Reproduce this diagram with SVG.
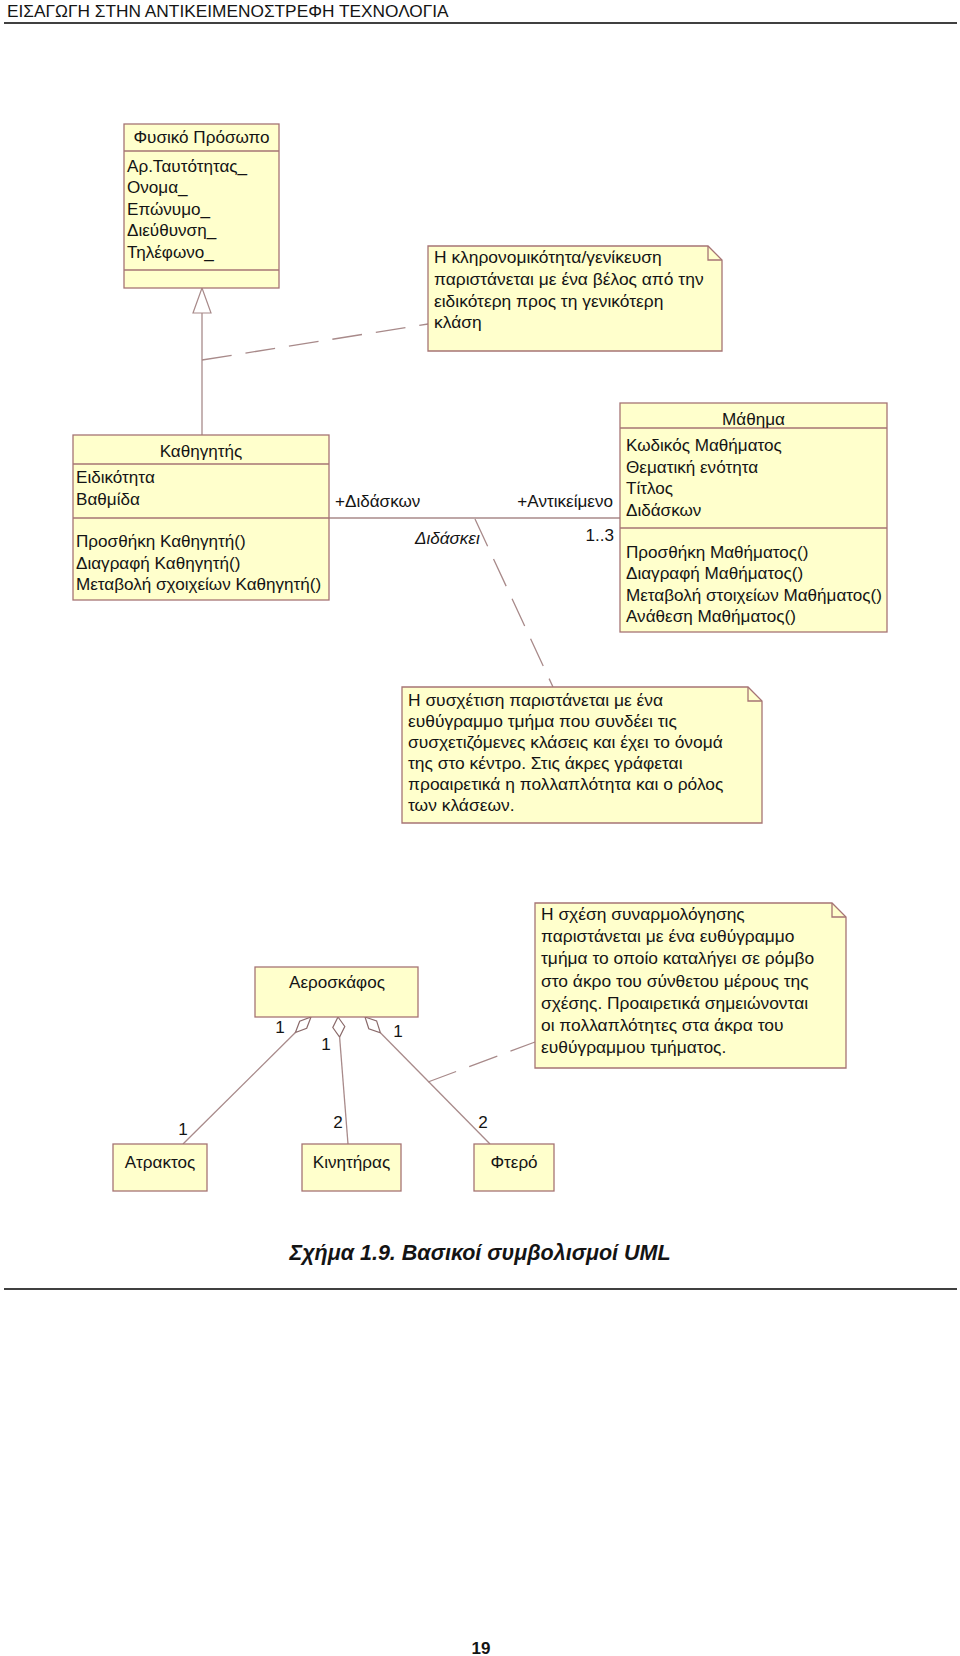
<svg xmlns="http://www.w3.org/2000/svg" width="960" height="1656" viewBox="0 0 960 1656">
<style>
.bx{fill:#ffffcc;stroke:#a67474;stroke-width:1.3}
.dv{stroke:#a67474;stroke-width:1.3}
.t{font-family:"Liberation Sans",Arial,sans-serif;font-size:17.1px;fill:#141414}
.n{font-size:17.4px}
.c{text-anchor:middle}
.e{text-anchor:end}
.ln{stroke:#a88a8a;stroke-width:1.3;fill:none}
.ds{stroke:#a88a8a;stroke-width:1.3;fill:none;stroke-dasharray:30 14}
.dm{fill:#ffffff;stroke:#8a6a6a;stroke-width:1.2}
.rule{stroke:#000;stroke-width:1.6}
</style>
<rect width="960" height="1656" fill="#ffffff"/>
<g id="header">
<text class="t" x="7" y="17" style="font-size:17.3px">ΕΙΣΑΓΩΓΗ ΣΤΗΝ ΑΝΤΙΚΕΙΜΕΝΟΣΤΡΕΦΗ ΤΕΧΝΟΛΟΓΙΑ</text>
<line class="rule" x1="4" y1="23" x2="957" y2="23"/>
</g>
<g id="connectors">
<polygon class="dm" points="202,288 193,313 211,313" style="stroke:#a88a8a"/>
<line class="ln" x1="202" y1="313" x2="202" y2="435"/>
<line class="ds" x1="202" y1="360" x2="428" y2="324"/>
<line class="ln" x1="329" y1="518" x2="620" y2="518"/>
<line class="ds" x1="475" y1="519" x2="553" y2="687"/>
<polygon class="dm" points="311,1017 306.7,1028.3 295.4,1032.5 299.7,1021.2"/>
<line class="ln" x1="295.4" y1="1032.5" x2="183" y2="1144"/>
<polygon class="dm" points="338,1017 344.8,1026.5 339.6,1037 332.8,1027.5"/>
<line class="ln" x1="339.6" y1="1037" x2="348" y2="1144"/>
<polygon class="dm" points="365,1017 376.6,1020.9 380.4,1032.7 368.8,1028.7"/>
<line class="ln" x1="380.4" y1="1032.7" x2="490" y2="1144"/>
<line class="ds" x1="428" y1="1082" x2="535" y2="1042"/>
<text class="t" x="335" y="507">+Διδάσκων</text>
<text class="t e" x="613" y="507">+Αντικείμενο</text>
<text class="t" x="415" y="544" font-style="italic">Διδάσκει</text>
<text class="t e" x="614" y="541">1..3</text>
<text class="t c" x="280" y="1033">1</text>
<text class="t c" x="326" y="1050">1</text>
<text class="t c" x="398" y="1037">1</text>
<text class="t c" x="183" y="1135">1</text>
<text class="t c" x="338" y="1128">2</text>
<text class="t c" x="483" y="1128">2</text>
</g>
<g id="fysiko">
<rect class="bx" x="124" y="124" width="155" height="164"/>
<line class="dv" x1="124" y1="151" x2="279" y2="151"/>
<line class="dv" x1="124" y1="270" x2="279" y2="270"/>
<text class="t c" x="201.5" y="143">Φυσικό Πρόσωπο</text>
<text class="t" x="127" y="172">Αρ.Ταυτότητας_</text>
<text class="t" x="127" y="193.4">Ονομα_</text>
<text class="t" x="127" y="214.8">Επώνυμο_</text>
<text class="t" x="127" y="236.2">Διεύθυνση_</text>
<text class="t" x="127" y="257.6">Τηλέφωνο_</text>
</g>
<g id="note1">
<polygon class="bx" points="428,246 708,246 722,260 722,351 428,351"/>
<polyline class="dv" fill="none" points="708,246 708,260 722,260"/>
<text class="t n" x="434" y="263">Η κληρονομικότητα/γενίκευση</text>
<text class="t n" x="434" y="285">παριστάνεται με ένα βέλος από την</text>
<text class="t n" x="434" y="307">ειδικότερη προς τη γενικότερη</text>
<text class="t n" x="434" y="328">κλάση</text>
</g>
<g id="kathigitis">
<rect class="bx" x="73" y="435" width="256" height="165"/>
<line class="dv" x1="73" y1="464" x2="329" y2="464"/>
<line class="dv" x1="73" y1="518" x2="329" y2="518"/>
<text class="t c" x="201" y="457">Καθηγητής</text>
<text class="t" x="76" y="483">Ειδικότητα</text>
<text class="t" x="76" y="504.5">Βαθμίδα</text>
<text class="t" x="76" y="547">Προσθήκη Καθηγητή()</text>
<text class="t" x="76" y="568.5">Διαγραφή Καθηγητή()</text>
<text class="t" x="76" y="590">Μεταβολή σχοιχείων Καθηγητή()</text>
</g>
<g id="mathima">
<rect class="bx" x="620" y="403" width="267" height="229"/>
<line class="dv" x1="620" y1="428" x2="887" y2="428"/>
<line class="dv" x1="620" y1="528" x2="887" y2="528"/>
<text class="t c" x="753.5" y="425">Μάθημα</text>
<text class="t" x="626" y="451">Κωδικός Μαθήματος</text>
<text class="t" x="626" y="472.5">Θεματική ενότητα</text>
<text class="t" x="626" y="494">Τίτλος</text>
<text class="t" x="626" y="515.5">Διδάσκων</text>
<text class="t" x="626" y="557.5">Προσθήκη Μαθήματος()</text>
<text class="t" x="626" y="579">Διαγραφή Μαθήματος()</text>
<text class="t" x="626" y="600.5">Μεταβολή στοιχείων Μαθήματος()</text>
<text class="t" x="626" y="622">Ανάθεση Μαθήματος()</text>
</g>
<g id="note2">
<polygon class="bx" points="402,687 748,687 762,701 762,823 402,823"/>
<polyline class="dv" fill="none" points="748,687 748,701 762,701"/>
<text class="t n" x="408" y="706">Η συσχέτιση παριστάνεται με ένα</text>
<text class="t n" x="408" y="727">ευθύγραμμο τμήμα που συνδέει τις</text>
<text class="t n" x="408" y="748">συσχετιζόμενες κλάσεις και έχει το όνομά</text>
<text class="t n" x="408" y="769">της στο κέντρο. Στις άκρες γράφεται</text>
<text class="t n" x="408" y="790">προαιρετικά η πολλαπλότητα και ο ρόλος</text>
<text class="t n" x="408" y="811">των κλάσεων.</text>
</g>
<g id="aeroskafos">
<rect class="bx" x="255" y="967" width="163" height="50"/>
<text class="t c" x="337" y="988">Αεροσκάφος</text>
</g>
<g id="note3">
<polygon class="bx" points="535,903 832,903 846,917 846,1068 535,1068"/>
<polyline class="dv" fill="none" points="832,903 832,917 846,917"/>
<text class="t n" x="541" y="920">Η σχέση συναρμολόγησης</text>
<text class="t n" x="541" y="942">παριστάνεται με ένα ευθύγραμμο</text>
<text class="t n" x="541" y="964">τμήμα το οποίο καταλήγει σε ρόμβο</text>
<text class="t n" x="541" y="987">στο άκρο του σύνθετου μέρους της</text>
<text class="t n" x="541" y="1009">σχέσης. Προαιρετικά σημειώνονται</text>
<text class="t n" x="541" y="1031">οι πολλαπλότητες στα άκρα του</text>
<text class="t n" x="541" y="1053">ευθύγραμμου τμήματος.</text>
</g>
<g id="atraktos">
<rect class="bx" x="113" y="1144" width="94" height="47"/>
<text class="t c" x="160" y="1168">Ατρακτος</text>
</g>
<g id="kinitiras">
<rect class="bx" x="302" y="1144" width="99" height="47"/>
<text class="t c" x="351.5" y="1168">Κινητήρας</text>
</g>
<g id="ftero">
<rect class="bx" x="474" y="1144" width="80" height="47"/>
<text class="t c" x="514" y="1168">Φτερό</text>
</g>
<g id="footer">
<text class="t c" x="480" y="1260" style="font-size:21.5px;font-weight:bold;font-style:italic">Σχήμα 1.9. Βασικοί συμβολισμοί UML</text>
<line class="rule" x1="4" y1="1289" x2="957" y2="1289"/>
<text class="t c" x="481" y="1654" style="font-size:17px;font-weight:bold">19</text>
</g>
</svg>
